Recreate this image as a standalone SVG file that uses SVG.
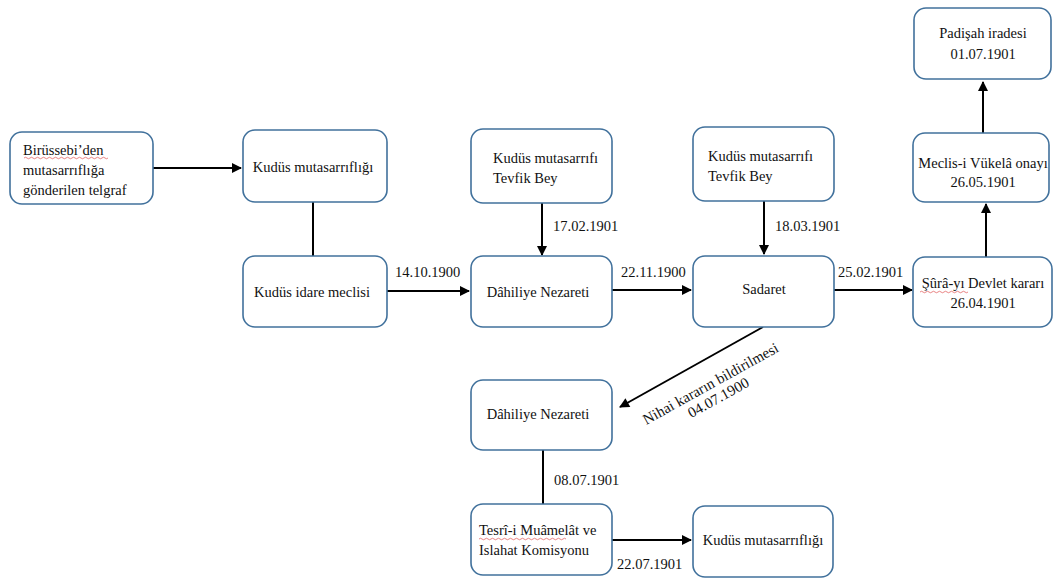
<svg xmlns="http://www.w3.org/2000/svg" width="1054" height="579" viewBox="0 0 1054 579" font-family="'Liberation Serif', 'Times New Roman', Times, serif">
<style>
.box{fill:#fff;stroke:#41719C;stroke-width:1.6}
text{font-family:'Liberation Serif','Times New Roman',Times,serif;font-size:14.5px;fill:#111}
.c{text-anchor:middle}
.ln{stroke:#000;stroke-width:2;fill:none}
.sq{stroke:#e05050;stroke-width:0.7;fill:none}
</style>
<defs>
<marker id="ah" viewBox="0 0 10 10" refX="9" refY="5" markerWidth="5.5" markerHeight="5" orient="auto" markerUnits="strokeWidth">
<path d="M0,0 L10,5 L0,10 z" fill="#000"/>
</marker>
</defs>
<rect width="1054" height="579" fill="#fff"/>
<g id="connectors">
<line class="ln" x1="153" y1="168" x2="241" y2="168" marker-end="url(#ah)"/>
<line class="ln" x1="313" y1="202" x2="313" y2="256"/>
<line class="ln" x1="387" y1="291" x2="469" y2="291" marker-end="url(#ah)"/>
<line class="ln" x1="542" y1="203" x2="542" y2="255" marker-end="url(#ah)"/>
<line class="ln" x1="612" y1="290" x2="691" y2="290" marker-end="url(#ah)"/>
<line class="ln" x1="764" y1="201" x2="764" y2="254" marker-end="url(#ah)"/>
<line class="ln" x1="834" y1="290" x2="912" y2="290" marker-end="url(#ah)"/>
<line class="ln" x1="986" y1="257" x2="986" y2="204" marker-end="url(#ah)"/>
<line class="ln" x1="983" y1="133" x2="983" y2="82" marker-end="url(#ah)"/>
<line class="ln" x1="763" y1="327" x2="620" y2="407" marker-end="url(#ah)"/>
<line class="ln" x1="543" y1="450" x2="543" y2="504"/>
<line class="ln" x1="612" y1="540" x2="691" y2="540" marker-end="url(#ah)"/>
<text x="395" y="277">14.10.1900</text>
<text x="553" y="231">17.02.1901</text>
<text x="621" y="277">22.11.1900</text>
<text x="775" y="231">18.03.1901</text>
<text x="838" y="277">25.02.1901</text>
<text x="554" y="485">08.07.1901</text>
<text x="617" y="569">22.07.1901</text>
<g transform="translate(713,388) rotate(-29)">
<text class="c" x="0" y="0" style="font-size:15px">Nihai kararın bildirilmesi</text>
<text class="c" x="0" y="16" style="font-size:15px">04.07.1900</text>
</g>
</g>
<g id="n1"><rect class="box" x="10" y="132" width="143" height="72" rx="12"/>
<text x="23" y="155">Birüssebi’den</text><text x="23" y="175">mutasarrıflığa</text><text x="23" y="195">gönderilen telgraf</text>
<path class="sq" d="M24,158 q1.5,-1.5 3,0 t3,0 t3,0 t3,0 t3,0 t3,0 t3,0 t3,0 t3,0 t3,0 t3,0 t3,0 t3,0 t3,0 t3,0 t3,0 t3,0 t3,0 t3,0 t3,0 t3,0 t3,0 t3,0 t3,0 t3,0 t3,0 t3,0 t3,0"/></g>
<g id="n2"><rect class="box" x="243" y="130" width="144" height="72" rx="12"/>
<text class="c" x="313" y="172">Kudüs mutasarrıflığı</text></g>
<g id="n3"><rect class="box" x="243" y="256" width="144" height="71" rx="12"/>
<text class="c" x="312" y="297">Kudüs idare meclisi</text></g>
<g id="n4"><rect class="box" x="471" y="129" width="141" height="74" rx="12"/>
<text x="493" y="163">Kudüs mutasarrıfı</text><text x="493" y="183">Tevfik Bey</text></g>
<g id="n5"><rect class="box" x="471" y="256" width="141" height="71" rx="12"/>
<text class="c" x="538" y="297">Dâhiliye Nezareti</text></g>
<g id="n6"><rect class="box" x="693" y="127" width="141" height="74" rx="12"/>
<text x="708" y="161">Kudüs mutasarrıfı</text><text x="708" y="181">Tevfik Bey</text></g>
<g id="n7"><rect class="box" x="693" y="256" width="141" height="71" rx="12"/>
<text class="c" x="764" y="294">Sadaret</text></g>
<g id="n8"><rect class="box" x="913" y="257" width="139" height="70" rx="12"/>
<text class="c" x="983" y="288">Şûrâ-yı Devlet kararı</text><text class="c" x="983" y="308">26.04.1901</text>
<path class="sq" d="M920,292 q1.5,-1.5 3,0 t3,0 t3,0 t3,0 t3,0 t3,0 t3,0 t3,0 t3,0 t3,0 t3,0 t3,0 t3,0 t3,0 t3,0 t3,0"/></g>
<g id="n9"><rect class="box" x="913" y="133" width="136" height="69" rx="12"/>
<text class="c" x="983" y="168">Meclis-i Vükelâ onayı</text><text class="c" x="983" y="187">26.05.1901</text></g>
<g id="n10"><rect class="box" x="914" y="8" width="137" height="71" rx="12"/>
<text class="c" x="983" y="38">Padişah iradesi</text><text class="c" x="983" y="59">01.07.1901</text></g>
<g id="n11"><rect class="box" x="471" y="380" width="141" height="70" rx="12"/>
<text class="c" x="538" y="419">Dâhiliye Nezareti</text></g>
<g id="n12"><rect class="box" x="471" y="504" width="141" height="71" rx="12"/>
<text x="479" y="535">Tesrî-i Muâmelât ve</text><text x="479" y="555">Islahat Komisyonu</text>
<path class="sq" d="M479,539 q1.5,-1.5 3,0 t3,0 t3,0 t3,0 t3,0 t3,0 t3,0 t3,0 t3,0 t3,0 t3,0 t3,0 t3,0 t3,0 t3,0 t3,0 t3,0 t3,0 t3,0 t3,0 t3,0 t3,0 t3,0 t3,0 t3,0 t3,0 t3,0 t3,0 t3,0"/></g>
<g id="n13"><rect class="box" x="693" y="506" width="140" height="71" rx="12"/>
<text class="c" x="763" y="545">Kudüs mutasarrıflığı</text></g>
</svg>
